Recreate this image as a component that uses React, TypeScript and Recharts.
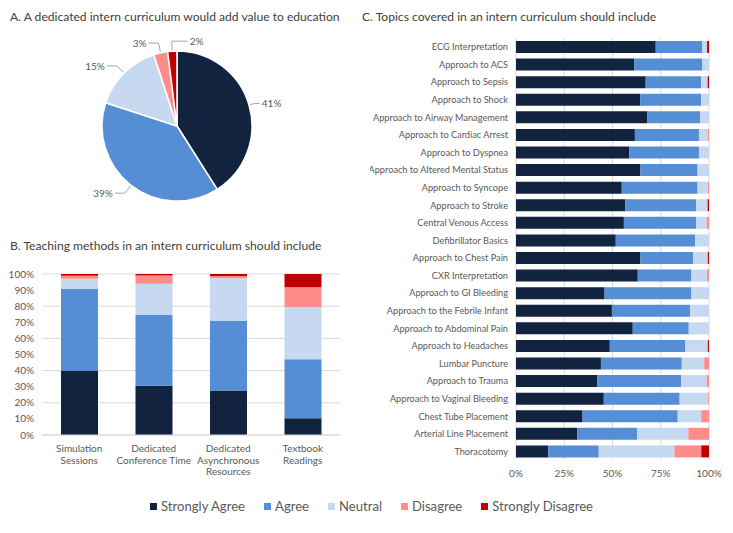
import React from 'react';
import { PieChart, Pie, Cell, BarChart, Bar, XAxis, YAxis, CartesianGrid } from 'recharts';

const COLORS = ['#12233F', '#558ED5', '#C6D9F1', '#FF8B8B', '#C00000'];
const LEVELS = ['Strongly Agree', 'Agree', 'Neutral', 'Disagree', 'Strongly Disagree'];
const KEYS = ['sa', 'a', 'n', 'd', 'sd'];
const FONT = 'Lato, "Open Sans", sans-serif';
const TXT = '#595959';

// Panel A
const pieValues = [41, 39, 15, 3, 2];

// Panel B
const bCategories = ['Simulation\nSessions', 'Dedicated\nConference Time', 'Dedicated\nAsynchronous\nResources', 'Textbook\nReadings'];
const bStronglyAgree = [40.0, 30.6, 27.7, 10.4];
const bAgree = [50.9, 43.9, 43.1, 36.6];
const bNeutral = [6.2, 19.5, 26.5, 32.3];
const bDisagree = [1.8, 5.0, 1.5, 12.4];
const bStronglyDisagree = [1.1, 1.0, 1.2, 8.3];
const bTicks = [0, 10, 20, 30, 40, 50, 60, 70, 80, 90, 100];

// Panel C
const cCategories = [
  'ECG Interpretation', 'Approach to ACS', 'Approach to Sepsis', 'Approach to Shock',
  'Approach to Airway Management', 'Approach to Cardiac Arrest', 'Approach to Dyspnea',
  'Approach to Altered Mental Status', 'Approach to Syncope', 'Approach to Stroke',
  'Central Venous Access', 'Defibrillator Basics', 'Approach to Chest Pain', 'CXR Interpretation',
  'Approach to GI Bleeding', 'Approach to the Febrile Infant', 'Approach to Abdominal Pain',
  'Approach to Headaches', 'Lumbar Puncture', 'Approach to Trauma', 'Approach to Vaginal Bleeding',
  'Chest Tube Placement', 'Arterial Line Placement', 'Thoracotomy',
];
const cStronglyAgree = [72.4, 61.2, 67.2, 64.3, 68.1, 61.6, 58.6, 64.5, 54.8, 56.6, 55.9, 51.7, 64.5, 63.1, 45.9, 49.7, 60.5, 48.6, 44.0, 42.2, 45.5, 34.5, 31.7, 16.7];
const cAgree = [24.2, 35.4, 28.8, 31.7, 27.4, 33.2, 36.2, 29.6, 39.3, 36.8, 37.5, 41.1, 27.2, 27.8, 45.0, 40.6, 29.0, 39.2, 41.9, 43.3, 39.3, 49.3, 31.1, 26.2];
const cNeutral = [2.4, 3.4, 3.3, 4.0, 4.5, 4.7, 5.2, 5.9, 5.4, 5.9, 5.4, 7.2, 7.7, 8.1, 9.1, 9.7, 10.5, 11.6, 11.6, 13.3, 14.8, 12.2, 26.5, 39.2];
const cDisagree = [0, 0, 0, 0, 0, 0.5, 0, 0, 0.5, 0, 1.2, 0, 0, 1.0, 0, 0, 0, 0, 2.5, 1.2, 0.4, 4.0, 10.7, 13.9];
const cStronglyDisagree = [1.0, 0, 0.7, 0, 0, 0, 0, 0, 0, 0.7, 0, 0, 0.6, 0, 0, 0, 0, 0.6, 0, 0, 0, 0, 0, 4.0];
const cTicks = [0, 25, 50, 75, 100];

const pieData = pieValues.map((v, i) => ({ name: LEVELS[i], value: v }));
const bData = bCategories.map((name, i) => ({
  name, sa: bStronglyAgree[i], a: bAgree[i], n: bNeutral[i], d: bDisagree[i], sd: bStronglyDisagree[i],
}));
const cData = cCategories.map((name, i) => ({
  name, sa: cStronglyAgree[i], a: cAgree[i], n: cNeutral[i], d: cDisagree[i], sd: cStronglyDisagree[i],
}));

const RAD = Math.PI / 180;
const renderPieLabel = (props: any) => {
  const { cx, cy, midAngle, outerRadius, value } = props;
  const c = Math.cos(midAngle * RAD);
  const s = Math.sin(midAngle * RAD);
  const flipped = c < 0 && s > 0.99;
  const dir = c >= 0 || flipped ? 1 : -1;
  const ext = dir > 0 && !flipped ? 6 : 10;
  const sx = cx + (outerRadius + 1) * c;
  const sy = cy - (outerRadius + 1) * s;
  const mx = cx + (outerRadius + ext) * c;
  const my = cy - (outerRadius + ext) * s;
  const ex = mx + dir * (flipped ? 16 : dir > 0 ? 5 : 10);
  return (
    <g>
      <polyline points={`${sx},${sy} ${mx},${my} ${ex},${my}`} fill="none" stroke="#A6A6A6" strokeWidth={1} />
      <text x={ex + dir * 2} y={my} textAnchor={dir > 0 ? 'start' : 'end'} dominantBaseline="central"
        fill={TXT} fontSize={10} fontFamily={FONT}>{`${value}%`}</text>
    </g>
  );
};

const BTick = (props: any) => {
  const { x, y, payload } = props;
  const lines = String(payload.value).split('\n');
  return (
    <text x={x} y={y} textAnchor="middle" fill={TXT} fontSize={10} fontFamily={FONT}>
      {lines.map((l, i) => (
        <tspan key={i} x={x} dy={i === 0 ? 9 : 11.5}>{l}</tspan>
      ))}
    </text>
  );
};

const CTick = (props: any) => {
  const { x, y, payload } = props;
  return (
    <text x={x} y={y} textAnchor="end" dominantBaseline="central" fill={TXT} fontSize={9.2} fontFamily={FONT}>
      {payload.value}
    </text>
  );
};

const titleStyle: React.CSSProperties = {
  position: 'absolute', fontFamily: FONT, fontSize: 12.1, color: '#404040', whiteSpace: 'nowrap',
};

export default function App() {
  return (
    <div style={{ position: 'absolute', left: 0, top: 0, width: 733, height: 533, background: '#fff', overflow: 'hidden' }}>
      <div style={{ ...titleStyle, left: 10, top: 9 }}>A. A dedicated intern curriculum would add value to education</div>
      <div style={{ ...titleStyle, left: 10, top: 238 }}>B. Teaching methods in an intern curriculum should include</div>
      <div style={{ ...titleStyle, left: 362, top: 9 }}>C. Topics covered in an intern curriculum should include</div>

      <div style={{ position: 'absolute', left: 0, top: 25 }}>
        <PieChart width={360} height={200} margin={{ top: 0, right: 0, bottom: 0, left: 0 }}>
          <Pie data={pieData} dataKey="value" cx={177} cy={101} outerRadius={75} startAngle={90} endAngle={-270}
            stroke="#fff" strokeWidth={1.5} label={renderPieLabel} labelLine={false} isAnimationActive={false}>
            {pieData.map((d, i) => <Cell key={d.name} fill={COLORS[i]} />)}
          </Pie>
        </PieChart>
      </div>

      <div style={{ position: 'absolute', left: 0, top: 260 }}>
        <BarChart width={350} height={225} data={bData} margin={{ top: 14, right: 10, left: 0, bottom: 5 }}>
          <CartesianGrid vertical={false} stroke="#D9D9D9" />
          <XAxis dataKey="name" type="category" tick={<BTick />} tickLine={false} axisLine={{ stroke: '#D9D9D9' }} interval={0} height={45} />
          <YAxis type="number" domain={[0, 100]} ticks={bTicks} tickFormatter={(v) => `${v}%`} width={42}
            tickLine={false} axisLine={false} allowDataOverflow tick={{ fill: TXT, fontSize: 10, fontFamily: FONT }} />
          {KEYS.map((k, i) => (
            <Bar key={k} dataKey={k} stackId="s" fill={COLORS[i]} barSize={37} isAnimationActive={false} />
          ))}
        </BarChart>
      </div>

      <div style={{ position: 'absolute', left: 370, top: 30 }}>
        <BarChart width={363} height={460} data={cData} layout="vertical" margin={{ top: 8, right: 24, left: 0, bottom: 5 }}>
          <CartesianGrid horizontal={false} stroke="#D9D9D9" />
          <XAxis type="number" domain={[0, 100]} ticks={cTicks} tickFormatter={(v) => `${v}%`} height={25}
            tickLine={false} axisLine={false} tickMargin={4} allowDataOverflow tick={{ fill: TXT, fontSize: 10, fontFamily: FONT }} />
          <YAxis type="category" dataKey="name" width={146} interval={0} tickLine={false} axisLine={false}
            tick={<CTick />} />
          {KEYS.map((k, i) => (
            <Bar key={k} dataKey={k} stackId="s" fill={COLORS[i]} barSize={12} isAnimationActive={false} />
          ))}
        </BarChart>
      </div>

      <div style={{ position: 'absolute', left: 5, top: 498, width: 733, display: 'flex', justifyContent: 'center', gap: 19, fontFamily: FONT, fontSize: 13.1, color: TXT }}>
        {LEVELS.map((l, i) => (
          <div key={l} style={{ display: 'flex', alignItems: 'center', gap: 4 }}>
            <span style={{ display: 'inline-block', width: 7, height: 7, background: COLORS[i] }} />
            <span>{l}</span>
          </div>
        ))}
      </div>
    </div>
  );
}
